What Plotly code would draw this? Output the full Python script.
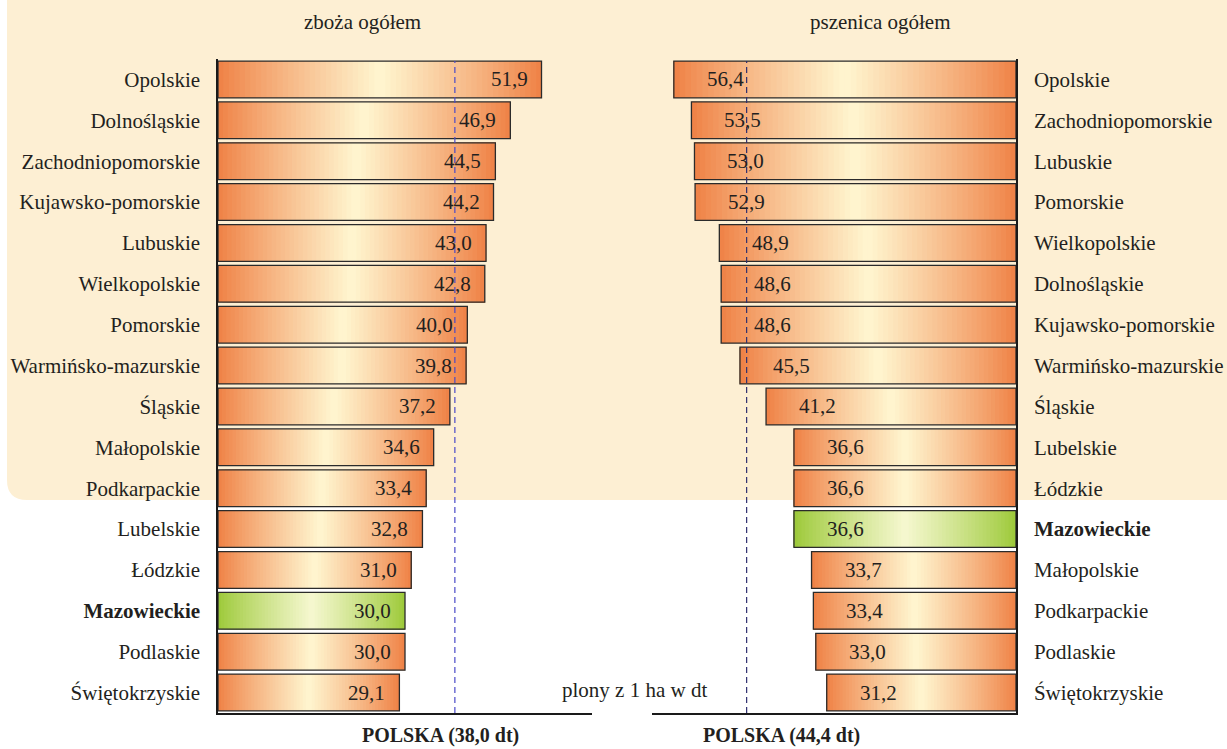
import plotly.graph_objects as go

# ---------------- data ----------------
zboza_regions = ["Opolskie", "Dolnośląskie", "Zachodniopomorskie", "Kujawsko-pomorskie",
                 "Lubuskie", "Wielkopolskie", "Pomorskie", "Warmińsko-mazurskie", "Śląskie",
                 "Małopolskie", "Podkarpackie", "Lubelskie", "Łódzkie", "Mazowieckie",
                 "Podlaskie", "Świętokrzyskie"]
zboza_values = [51.9, 46.9, 44.5, 44.2, 43.0, 42.8, 40.0, 39.8, 37.2, 34.6, 33.4, 32.8,
                31.0, 30.0, 30.0, 29.1]

pszenica_regions = ["Opolskie", "Zachodniopomorskie", "Lubuskie", "Pomorskie", "Wielkopolskie",
                    "Dolnośląskie", "Kujawsko-pomorskie", "Warmińsko-mazurskie", "Śląskie",
                    "Lubelskie", "Łódzkie", "Mazowieckie", "Małopolskie", "Podkarpackie",
                    "Podlaskie", "Świętokrzyskie"]
pszenica_values = [56.4, 53.5, 53.0, 52.9, 48.9, 48.6, 48.6, 45.5, 41.2, 36.6, 36.6, 36.6,
                   33.7, 33.4, 33.0, 31.2]

polska_zboza = 38.0
polska_pszenica = 44.4
highlight = "Mazowieckie"

titles = ["zboża ogółem", "pszenica ogółem"]
unit_note = "plony z 1 ha w dt"

# ---------------- style ----------------
FONT = "Liberation Serif"
FS = 21
TXT = "#231f20"
ORANGE_EDGE = (239, 128, 68)
ORANGE_MID = (255, 246, 208)
GREEN_EDGE = (156, 201, 56)
GREEN_MID = (246, 248, 208)
N_SEG = 60
W, H = 1227, 749


def fmt(v):
    return f"{v:.1f}".replace(".", ",")


def grad_color(edge, mid, t, c=0.5):
    # profile 0 at the ends, 1 at centre c
    if t <= c:
        p = t / c
    else:
        p = (1 - t) / (1 - c)
    p = p ** 0.9
    r = [round(e + (m - e) * p) for e, m in zip(edge, mid)]
    return f"rgb({r[0]},{r[1]},{r[2]})"


fig = go.Figure()


def add_panel(regions, values, xa, ya):
    for k in range(N_SEG):
        t = (k + 0.5) / N_SEG
        cols = [grad_color(GREEN_EDGE, GREEN_MID, t) if r == highlight
                else grad_color(ORANGE_EDGE, ORANGE_MID, t) for r in regions]
        fig.add_trace(go.Bar(
            y=regions, x=[v * (N_SEG - k) / N_SEG for v in values],
            base=[v * k / N_SEG for v in values],
            orientation="h", width=0.9, xaxis=xa, yaxis=ya,
            marker=dict(color=cols, line=dict(width=0)),
            hoverinfo="skip", showlegend=False))
    fig.add_trace(go.Bar(
        y=regions, x=values, orientation="h", width=0.9, xaxis=xa, yaxis=ya,
        marker=dict(color="rgba(0,0,0,0)", line=dict(color="#2b2b2b", width=1.3)),
        showlegend=False, hovertemplate="%{y}: %{x}<extra></extra>"))


add_panel(zboza_regions, zboza_values, "x", "y")
add_panel(pszenica_regions, pszenica_values, "x2", "y2")

ydom = [1 - 713 / H, 1 - 59 / H]


def ticktexts(regions):
    return [f"<b>{r}</b>" if r == highlight else r for r in regions]


common_x = dict(showgrid=False, zeroline=False, showticklabels=False, ticks="",
                showline=True, linecolor="#1a1a1a", linewidth=2, fixedrange=True)
common_y = dict(showgrid=False, zeroline=False, showline=True, linecolor="#1a1a1a",
                linewidth=1.5, ticks="", autorange="reversed", type="category",
                tickfont=dict(family=FONT, size=FS, color=TXT), domain=ydom,
                ticklabelstandoff=12, tickmode="array", fixedrange=True)

fig.update_layout(
    width=W, height=H,
    margin=dict(l=0, r=0, t=0, b=0),
    paper_bgcolor="white", plot_bgcolor="rgba(0,0,0,0)",
    barmode="overlay", bargap=0.1,
    font=dict(family=FONT, size=FS, color=TXT),
    xaxis=dict(domain=[218 / W, 592 / W], range=[0, 60], anchor="y", **common_x),
    xaxis2=dict(domain=[652 / W, 1016 / W], range=[60, 0], anchor="y2", **common_x),
    yaxis=dict(anchor="x", side="left", categoryarray=zboza_regions,
               categoryorder="array", tickvals=zboza_regions,
               ticktext=ticktexts(zboza_regions), **common_y),
    yaxis2=dict(anchor="x2", side="right", categoryarray=pszenica_regions,
                categoryorder="array", tickvals=pszenica_regions,
                ticktext=ticktexts(pszenica_regions), **common_y),
)

# beige background panel with rounded bottom-left corner
x0, y0 = 7 / W, 1 - 500 / H
rx, ry = 20 / W, 20 / H
path = (f"M {x0},1.02 L {x0},{y0 + ry} Q {x0},{y0} {x0 + rx},{y0} "
        f"L 1.02,{y0} L 1.02,1.02 Z")
fig.add_shape(type="path", path=path, xref="paper", yref="paper",
              fillcolor="#fdefd3", line=dict(width=0), layer="below")

# national average dashed lines
fig.add_shape(type="line", xref="x", yref="y domain", x0=polska_zboza, x1=polska_zboza,
              y0=0, y1=0.997, line=dict(color="#4a4ac8", width=1.2, dash="6px,4px"),
              layer="above")
fig.add_shape(type="line", xref="x2", yref="y2 domain", x0=polska_pszenica,
              x1=polska_pszenica, y0=0, y1=0.997,
              line=dict(color="#2e2e6e", width=1.2, dash="6px,4px"), layer="above")

# value labels
for r, v in zip(zboza_regions, zboza_values):
    fig.add_annotation(x=v, y=r, xref="x", yref="y", text=fmt(v), showarrow=False,
                       xanchor="right", xshift=-12, font=dict(family=FONT, size=FS, color=TXT))
for r, v in zip(pszenica_regions, pszenica_values):
    fig.add_annotation(x=v, y=r, xref="x2", yref="y2", text=fmt(v), showarrow=False,
                       xanchor="left", xshift=31, font=dict(family=FONT, size=FS, color=TXT))


def note(xp, yp, text, size=FS):
    fig.add_annotation(x=xp / W, y=1 - yp / H, xref="paper", yref="paper", text=text,
                       showarrow=False, xanchor="center", yanchor="middle",
                       font=dict(family=FONT, size=size, color=TXT))


# titles and notes
note(363, 22, titles[0])
note(880, 22, titles[1])
note(634, 690, unit_note)
note(440, 735, f"<b>POLSKA ({fmt(polska_zboza)} dt)</b>", FS - 1)
note(781, 735, f"<b>POLSKA ({fmt(polska_pszenica)} dt)</b>", FS - 1)

fig.write_html("out.html", config={"displayModeBar": False},
               post_script="document.body.style.margin='0';"
                           "document.body.style.overflow='hidden';")
